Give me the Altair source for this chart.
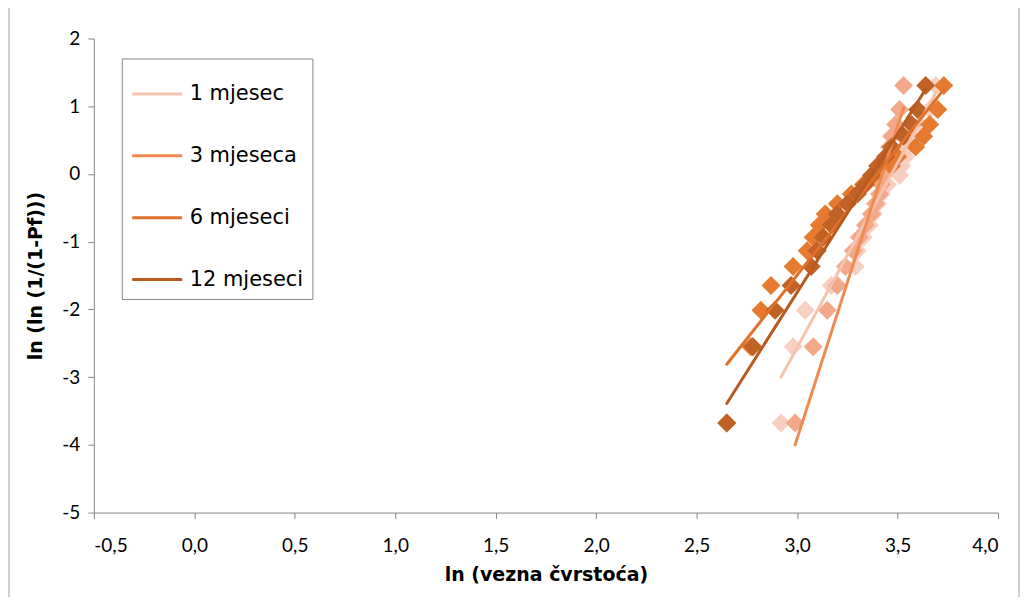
import altair as alt
import pandas as pd

series_names = ["1 mjesec", "3 mjeseca", "6 mjeseci", "12 mjeseci"]

# ln(ln(1/(1-Pf))) values (same levels for each series)
y_vals = [-3.676, -2.551, -2.013, -1.648, -1.367, -1.134, -0.934, -0.755, -0.592, -0.439,
          -0.295, -0.156, -0.019, 0.117, 0.255, 0.400, 0.556, 0.732, 0.952, 1.305]

x_1m = [2.92, 2.98, 3.04, 3.17, 3.29, 3.30, 3.33, 3.36, 3.38, 3.40,
        3.42, 3.45, 3.51, 3.52, 3.54, 3.55, 3.57, 3.61, 3.66, 3.69]
x_3m = [2.99, 3.08, 3.15, 3.20, 3.24, 3.28, 3.31, 3.34, 3.37, 3.39,
        3.41, 3.42, 3.43, 3.44, 3.45, 3.46, 3.47, 3.49, 3.51, 3.53]
x_6m = [2.65, 2.77, 2.82, 2.87, 2.98, 3.05, 3.08, 3.11, 3.14, 3.20,
        3.27, 3.33, 3.38, 3.47, 3.50, 3.59, 3.63, 3.66, 3.70, 3.73]
x_12m = [2.65, 2.78, 2.89, 2.97, 3.07, 3.10, 3.13, 3.17, 3.20, 3.25,
         3.30, 3.34, 3.37, 3.40, 3.44, 3.47, 3.53, 3.57, 3.60, 3.64]

# linear trend lines (start / end points)
trend_x_start = [2.92, 2.99, 2.65, 2.65]
trend_y_start = [-3.00, -4.00, -2.81, -3.39]
trend_x_end = [3.69, 3.53, 3.73, 3.64]
trend_y_end = [1.20, 0.98, 1.25, 1.25]

marker_colors = ["#F8CFC0", "#F2A98A", "#E67B30", "#C06125"]
line_colors = ["#F5C3AE", "#F08A50", "#E0712A", "#B85A20"]

x_ticks = [-0.5, 0.0, 0.5, 1.0, 1.5, 2.0, 2.5, 3.0, 3.5, 4.0]
y_ticks = [-5, -4, -3, -2, -1, 0, 1, 2]

rows = []
for k, (name, xs) in enumerate(zip(series_names, [x_1m, x_3m, x_6m, x_12m])):
    for xv, yv in zip(xs, y_vals):
        rows.append({"serija": name, "ord": k, "x": xv, "y": yv})
df = pd.DataFrame(rows)

trows = []
for k, name in enumerate(series_names):
    trows.append({"serija": name, "ord": k, "x": trend_x_start[k], "y": trend_y_start[k]})
    trows.append({"serija": name, "ord": k, "x": trend_x_end[k], "y": trend_y_end[k]})
tdf = pd.DataFrame(trows)

TICK_FONT = "Lato"
TEXT_FONT = "DejaVu Sans"

x_enc = alt.X("x:Q", scale=alt.Scale(domain=[-0.5, 4.0], nice=False),
              axis=alt.Axis(values=x_ticks, title="ln (vezna čvrstoća)",
                            labelExpr="(datum.value < 0 ? '-' : '') + replace(format(abs(datum.value), '.1f'), '.', ',')"))
y_enc = alt.Y("y:Q", scale=alt.Scale(domain=[-5, 2], nice=False),
              axis=alt.Axis(values=y_ticks, title="ln (ln (1/(1-Pf)))",
                            labelExpr="'' + datum.value"))

points = alt.Chart(df).mark_point(shape="diamond", filled=True, size=360, opacity=1).encode(
    x=x_enc, y=y_enc,
    color=alt.Color("serija:N", scale=alt.Scale(domain=series_names, range=marker_colors), legend=None),
    order=alt.Order("ord:Q"),
)

lines = alt.Chart(tdf).mark_line(strokeWidth=3, strokeCap="round").encode(
    x="x:Q", y="y:Q",
    detail="serija:N",
    color=alt.Color("serija:N", scale=alt.Scale(domain=series_names, range=line_colors),
                    legend=alt.Legend(title=None, orient="none", legendX=28, legendY=20,
                                      symbolType="stroke", symbolSize=2500, symbolStrokeWidth=3,
                                      labelFontSize=21, labelFont=TEXT_FONT, labelColor="#000000",
                                      labelOffset=6, rowPadding=25, padding=9,
                                      strokeColor="#888888", fillColor="#FFFFFF")),
)

frame = alt.Chart(pd.DataFrame({"a": [0]})).mark_rect(
    fill=None, stroke="#A0A0A0", strokeWidth=1
).encode(x=alt.value(-85), x2=alt.value(927), y=alt.value(-40), y2=alt.value(620))

chart = alt.layer(frame, points, lines).resolve_scale(color="independent").properties(
    width=906, height=475,
    autosize=alt.AutoSizeParams(type="none"),
    padding={"left": 86, "top": 30, "right": 22, "bottom": 84},
).configure_view(stroke=None).configure_axis(
    grid=False, domainColor="#868686", tickColor="#868686", tickSize=6,
    labelFont=TICK_FONT, labelFontSize=19, labelColor="#000000",
    titleFont=TEXT_FONT, titleFontSize=19, titleFontWeight="bold", titleColor="#000000",
).configure_axisX(labelPadding=18, titlePadding=10).configure_axisY(labelPadding=8, titlePadding=16)

chart.save("out.html", embed_options={"renderer": "svg", "actions": False})
